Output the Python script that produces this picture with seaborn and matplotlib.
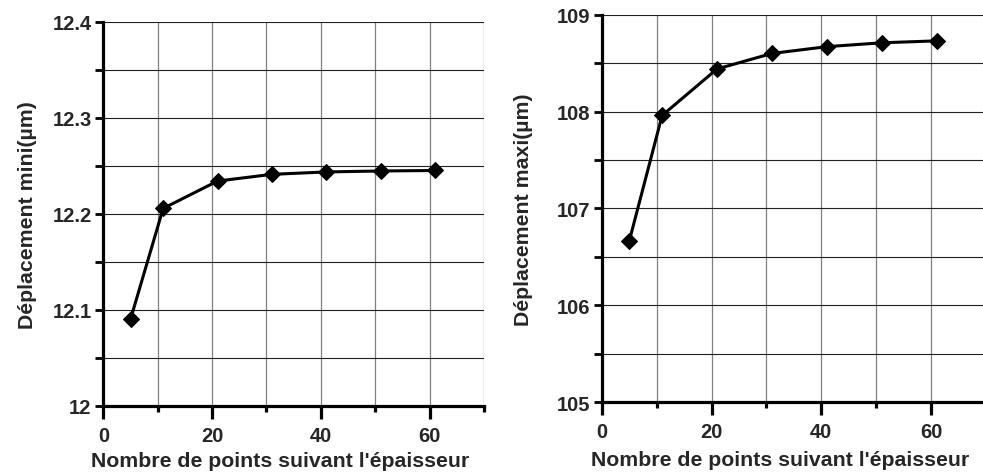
import matplotlib
matplotlib.use("Agg")
import matplotlib.pyplot as plt
from matplotlib.ticker import MultipleLocator, FixedLocator
import seaborn as sns
import pandas as pd

# Number of points through the thickness
nb_points = [5, 11, 21, 31, 41, 51, 61]
# Minimum displacement (µm)
depl_mini = [12.090, 12.2055, 12.234, 12.241, 12.2435, 12.2445, 12.245]
# Maximum displacement (µm)
depl_maxi = [106.66, 107.96, 108.44, 108.60, 108.67, 108.71, 108.73]

x_label = "Nombre de points suivant l'épaisseur"
y_label_mini = "Déplacement mini(µm)"
y_label_maxi = "Déplacement maxi(µm)"

sns.set_style("white")
plt.rcParams["font.family"] = ["Liberation Sans", "DejaVu Sans"]
plt.rcParams["font.weight"] = "bold"

fig = plt.figure(figsize=(9.83, 4.77), dpi=100)
ax1 = fig.add_axes([0.1051, 0.1474, 0.3873, 0.805])
ax2 = fig.add_axes([0.6121, 0.1545, 0.391, 0.8126])

df_min = pd.DataFrame({"x": nb_points, "y": depl_mini})
df_max = pd.DataFrame({"x": nb_points, "y": depl_maxi})


def style_axis(ax, ylim, ymajor, yminor, ylabel, ylab_x, xlab_y, yfmt):
    ax.set_xlim(0, 70)
    ax.set_ylim(*ylim)
    ax.xaxis.set_major_locator(FixedLocator([0, 20, 40, 60]))
    ax.xaxis.set_minor_locator(FixedLocator([10, 30, 50, 70]))
    ax.yaxis.set_major_locator(MultipleLocator(ymajor))
    ax.yaxis.set_minor_locator(MultipleLocator(yminor))
    ax.yaxis.set_major_formatter(yfmt)

    for side in ("top", "right"):
        ax.spines[side].set_visible(False)
    for side in ("left", "bottom"):
        ax.spines[side].set_linewidth(2.3)
        ax.spines[side].set_color("black")
        ax.spines[side].set_zorder(4)

    ax.grid(which="both", axis="y", color="#202020", linewidth=0.8)
    ax.grid(which="both", axis="x", color="#808080", linewidth=0.9)
    ax.set_axisbelow(True)

    ax.tick_params(axis="x", which="major", direction="out", length=9.5,
                   width=2.3, pad=5, labelsize=14.5, color="black", bottom=True)
    ax.tick_params(axis="x", which="minor", direction="out", length=4,
                   width=2.3, color="black", bottom=True)
    ax.tick_params(axis="y", which="both", direction="out", length=5.5,
                   width=2.0, pad=3, labelsize=14.5, color="black", left=True)
    for lab in ax.get_xticklabels() + ax.get_yticklabels():
        lab.set_fontweight("bold")

    ax.set_xlabel(x_label, fontsize=15.3, fontweight="bold")
    ax.set_ylabel(ylabel, fontsize=15.3, fontweight="bold")
    ax.xaxis.set_label_coords(0.464, xlab_y)
    ax.yaxis.set_label_coords(ylab_x, 0.5)


def fmt_mini(v, pos):
    s = f"{v:.1f}"
    return "12" if abs(v - 12) < 1e-9 else s


for df, ax in ((df_min, ax1), (df_max, ax2)):
    sns.lineplot(data=df, x="x", y="y", ax=ax, color="black", linewidth=2.2,
                 marker="D", markersize=8.5, markeredgecolor="black",
                 markerfacecolor="black", zorder=5, clip_on=False)

style_axis(ax1, (12.0, 12.4), 0.1, 0.05, y_label_mini, -0.174, -0.118,
           plt.FuncFormatter(fmt_mini))
style_axis(ax2, (105, 109), 1, 0.5, y_label_maxi, -0.179, -0.123,
           plt.FuncFormatter(lambda v, p: f"{v:.0f}"))

fig.savefig("out.png", dpi=100)
